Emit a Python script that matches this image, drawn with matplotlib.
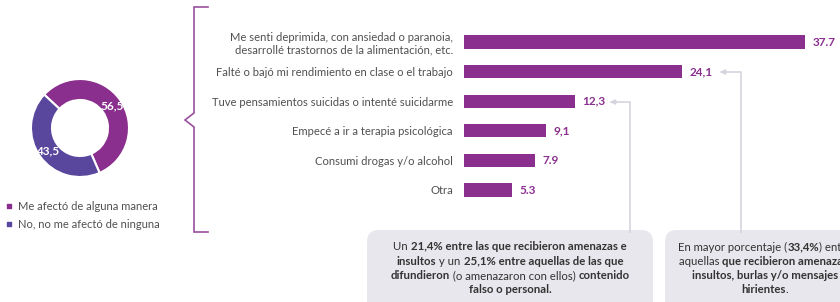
import matplotlib
matplotlib.use("Agg")
import matplotlib.pyplot as plt
from matplotlib.patches import FancyBboxPatch

plt.rcParams['font.family'] = ['Lato', 'DejaVu Sans']

# ============================================================
# Data
# ============================================================
donut_names = ["Me afectó de alguna manera", "No, no me afectó de ninguna"]
donut_values = [56.5, 43.5]
donut_labels = ["56,5", "43,5"]

categories = [
    "Me senti deprimida, con ansiedad o paranoia,\ndesarrollé trastornos de la alimentación, etc.",
    "Falté o bajó mi rendimiento en clase o el trabajo",
    "Tuve pensamientos suicidas o intenté suicidarme",
    "Empecé a ir a terapia psicológica",
    "Consumi drogas y/o alcohol",
    "Otra",
]
values = [37.7, 24.1, 12.3, 9.1, 7.9, 5.3]
value_labels = ["37.7", "24,1", "12,3", "9,1", "7.9", "5.3"]

box1_lines = [
    [("Un ", False), ("21,4% entre las que recibieron amenazas e", True)],
    [("insultos", True), (" y un ", False), ("25,1% entre aquellas de las que", True)],
    [("difundieron", True), (" (o amenazaron con ellos) ", False), ("contenido", True)],
    [("falso o personal.", True)],
]
box2_lines = [
    [("En mayor porcentaje (", False), ("33,4%", True), (") entre", False)],
    [("aquellas ", False), ("que recibieron amenazas,", True)],
    [("insultos, burlas y/o mensajes", True)],
    [("hirientes", True), (".", False)],
]

# ============================================================
# Styles
# ============================================================
PURPLE = "#8a2f8e"
BLUE = "#58479c"
TEXT = "#505050"
LIGHT = "#d4d4de"
BOX = "#e7e7ed"

W, H = 840, 302
fig = plt.figure(figsize=(W / 100, H / 100), dpi=100)

# overlay axes in pixel coordinates
ov = fig.add_axes([0, 0, 1, 1])
ov.set_xlim(0, W)
ov.set_ylim(H, 0)
ov.axis("off")

# -----------------------------------
# Donut
# -----------------------------------
cx, cy, R = 80, 128, 50
axd = fig.add_axes([(cx - R) / W, (H - cy - R) / H, 2 * R / W, 2 * R / H])
wedges, texts = axd.pie(
    donut_values, labels=donut_labels, colors=[PURPLE, BLUE],
    startangle=137, counterclock=False, radius=0.98, labeldistance=0.8,
    wedgeprops=dict(width=0.42, edgecolor="white", linewidth=1.5),
    textprops=dict(color="white", fontsize=8.5, fontweight="bold"),
)
for t in texts:
    t.set_ha("center")
    t.set_va("center")
axd.set_xlim(-1, 1)
axd.set_ylim(-1, 1)
axd.set_aspect("equal")

for i, (name, col) in enumerate(zip(donut_names, [PURPLE, BLUE])):
    y = 206 + i * 18
    ov.scatter([9], [y], marker="s", s=8, color=col)
    ov.text(18, y, name, fontsize=8, color=TEXT, va="center", ha="left")

# -----------------------------------
# Bracket
# -----------------------------------
ov.plot([208, 194, 194, 185, 194, 194, 208],
        [7, 7, 113, 120, 127, 232, 232], color="#9b4fa0", lw=1.2,
        solid_joinstyle="miter")

# -----------------------------------
# Bars
# -----------------------------------
bar_left = 464
px_per_unit = 9.05
row_gap = 29.6
top_row = 42
ax = fig.add_axes([bar_left / W, (H - (top_row + 5 * row_gap + row_gap / 2)) / H,
                   (W - bar_left) / W, 6 * row_gap / H])
ax.set_xlim(0, (W - bar_left) / px_per_unit)
ax.set_ylim(5.5, -0.5)
pos = list(range(len(values)))
ax.barh(pos, values, height=0.44, color=PURPLE)
for p, v, lab in zip(pos, values, value_labels):
    ax.text(v + 0.8, p, lab, color=PURPLE, fontsize=8.5, fontweight="bold",
            va="center", ha="left")
ax.set_yticks(pos)
ax.set_yticklabels(categories, fontsize=8.1, color=TEXT, linespacing=1.15)
ax.tick_params(axis="y", length=0, pad=8)
ax.set_xticks([])
for s in ax.spines.values():
    s.set_visible(False)
ax.patch.set_alpha(0)

# -----------------------------------
# Arrows and callout boxes
# -----------------------------------
ov2 = fig.add_axes([0, 0, 1, 1], zorder=5)
ov2.set_xlim(0, W)
ov2.set_ylim(H, 0)
ov2.axis("off")

ov2.plot([630, 630, 614], [232, 102, 102], color=LIGHT, lw=1.2)
ov2.annotate("", xy=(607, 102), xytext=(615, 102),
             arrowprops=dict(arrowstyle="-|>", color=LIGHT, lw=1.2,
                             mutation_scale=7))
ov2.plot([741, 741, 724], [232, 72, 72], color=LIGHT, lw=1.2)
ov2.annotate("", xy=(717, 72), xytext=(725, 72),
             arrowprops=dict(arrowstyle="-|>", color=LIGHT, lw=1.2,
                             mutation_scale=7))

for x0, x1 in [(367, 653), (665, 880)]:
    ov2.add_patch(FancyBboxPatch((x0, 230), x1 - x0, 90,
                                 boxstyle="round,pad=0,rounding_size=12",
                                 facecolor=BOX, edgecolor="none"))

renderer = fig.canvas.get_renderer()


def text_width(axis, txt, size, weight):
    # advance width: measure with a sentinel character to keep side bearings out
    t = axis.text(0, 0, txt.replace(" ", "\u00a0") + "|", fontsize=size, fontweight=weight)
    w1 = t.get_window_extent(renderer).width
    t.remove()
    t = axis.text(0, 0, "|", fontsize=size, fontweight=weight)
    w2 = t.get_window_extent(renderer).width
    t.remove()
    return w1 - w2


def rich_line(axis, xc, y, segments, size=8.2):
    widths = [text_width(axis, txt, size, "bold" if b else "normal")
              for txt, b in segments]
    x = xc - sum(widths) / 2
    for (txt, bold), w in zip(segments, widths):
        axis.text(x, y, txt.replace(" ", "\u00a0"), fontsize=size, color="#333333",
                  fontweight="bold" if bold else "normal", va="center", ha="left")
        x += w


for i, line in enumerate(box1_lines):
    rich_line(ov2, 510, 247 + i * 14.2, line)
for i, line in enumerate(box2_lines):
    rich_line(ov2, 765, 247 + i * 14.2, line)

fig.savefig("out.png", dpi=100)
